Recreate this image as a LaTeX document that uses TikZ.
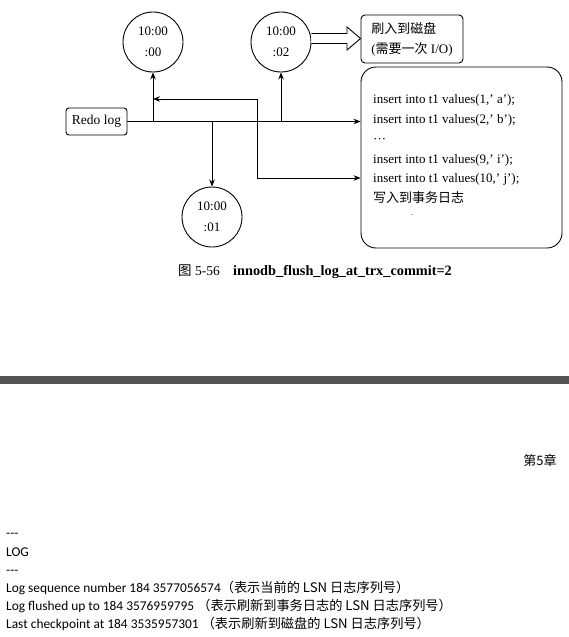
\documentclass[tikz,border=0pt]{standalone}
\usepackage{fontspec}
\setmainfont{Liberation Serif}
\setsansfont{Carlito}
\newfontfamily\cjkfont{Noto Sans CJK SC}
\usetikzlibrary{arrows.meta,calc}
\begin{document}
\begin{tikzpicture}[x=1pt,y=-1pt,
  conn/.style={line width=0.9pt},
  arr/.style={conn, -{Stealth[length=7pt,width=5.5pt]}},
  darr/.style={conn, {Stealth[length=7pt,width=5.5pt]}-{Stealth[length=7pt,width=5.5pt]}},
  clock/.style={circle, draw, line width=0.9pt, minimum size=60pt, inner sep=0pt, align=center, font=\fontsize{13}{21}\selectfont},
  redobox/.style={draw, line width=0.9pt, rounded corners=3pt, minimum width=61pt, minimum height=27pt, inner sep=0pt, font=\fontsize{13.5}{16}\selectfont},
  flushbox/.style={draw, line width=0.9pt, rounded corners=4pt, minimum width=102pt, minimum height=48pt, inner sep=0pt, align=left, font=\fontsize{13}{20}\selectfont},
  bigbox/.style={draw, line width=0.9pt, rounded corners=15pt, minimum width=201pt, minimum height=181pt, inner sep=0pt},
  boxtext/.style={anchor=north west, inner sep=0pt, align=left, font=\fontsize{13}{19.8}\selectfont},
  captxt/.style={anchor=base west, inner sep=0pt, font=\fontsize{14.3}{16}\selectfont\bfseries},
  logtxt/.style={anchor=base west, inner sep=0pt, font=\sffamily\fontsize{13.4}{16}\selectfont},
  zhlog/.style={font=\cjkfont\fontsize{13.2}{15}\selectfont}
]
\useasboundingbox[fill=white] (0,0) rectangle (569,637);

% nodes
\node[redobox] (redo) at (96.5,121.5) {Redo log};
\node[clock] (c0) at (153,42) {10:00\\:00};
\node[clock] (c2) at (281,42) {10:00\\:02};
\node[clock] (c1) at (212,217) {10:00\\:01};
\node[flushbox] (flush) at (412,39) {{\cjkfont 刷入到磁盘}\\({\cjkfont 需要一次} I/O)};
\node[bigbox] (big) at (461.5,157.5) {};
\node[boxtext] (btext) at (373,94.5) {insert into t1 values(1,' a');\\insert into t1 values(2,' b');\\···\\insert into t1 values(9,' i');\\insert into t1 values(10,' j');\\{\cjkfont 写入到事务日志}};
\node[inner sep=0pt, font=\fontsize{8}{8}\selectfont] (dot) at (412,215) {.};

% connectors
\coordinate (loopA) at (257,99);
\coordinate (loopB) at (257,178);
\draw[arr] (redo.east) -- (redo.east -| big.west);
\draw[arr] (c0.south |- redo.east) -- (c0.south);
\draw[arr] (c2.south |- redo.east) -- (c2.south);
\draw[arr] (c1.north |- redo.east) -- (c1.north);
\draw[darr] (c0.south |- loopA) -- (loopA) -- (loopB) -- (big.west |- loopB);
% hollow arrow
\draw[line width=0.9pt, fill=white] (c2.east |- 0,33.5) -- (347,33.5) -- (347,27) -- (flush.west |- 0,38.5) -- (347,50) -- (347,43.5) -- (c2.east |- 0,43.5);

% caption
\node[captxt, font=\fontsize{13.5}{16}\selectfont] (capA) at (178,275) {{\cjkfont 图} 5-56};
\node[captxt] (capB) at (233,275) {innodb\_flush\_log\_at\_trx\_commit=2};

% band
\fill[fill={rgb,255:red,85;green,85;blue,85}] (0,376) rectangle (569,384);

\node[inner sep=0pt, font=\cjkfont\fontsize{13}{15}\selectfont] (chap) at (540,460) {第5章};

% log text
\node[logtxt] (l1) at (6,537.5) {-{}-{}-};
\node[logtxt] (l2) at (6,556) {LOG};
\node[logtxt] (l3) at (6,574) {-{}-{}-};
\node[logtxt] (l4) at (6,592) {Log sequence number 184 3577056574{\cjkfont\fontsize{13.2}{15}\selectfont （表示当前的 LSN 日志序列号）}};
\node[logtxt] (l5) at (6,610) {Log flushed up to 184 3576959795 {\cjkfont\fontsize{13.2}{15}\selectfont （表示刷新到事务日志的 LSN 日志序列号）}};
\node[logtxt] (l6) at (6,628) {Last checkpoint at 184 3535957301 {\cjkfont\fontsize{13.2}{15}\selectfont （表示刷新到磁盘的 LSN 日志序列号）}};
\end{tikzpicture}
\end{document}
